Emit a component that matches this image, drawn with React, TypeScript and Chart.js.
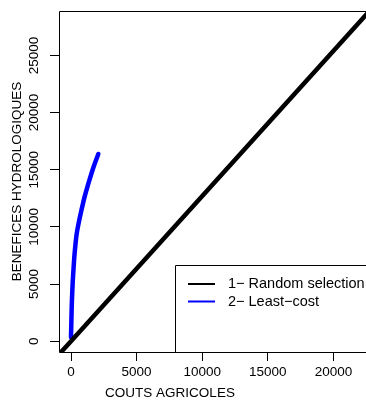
import { useEffect, useRef } from "react";
import { Chart, registerables } from "chart.js";

Chart.register(...registerables);

// ---- data ----
const RANDOM_X = [-1000, 0, 24000];
const RANDOM_Y = [-1270, 0, 30480];
const LEASTCOST_X = [0, 23, 53, 99, 165, 245, 335, 420, 600, 820, 1060, 1310, 1700, 2081];
const LEASTCOST_Y = [345, 1526, 2957, 4396, 5836, 7267, 8422, 9284, 10430, 11577, 12731, 13732, 15171, 16380];
const X_TICKS = [0, 5000, 10000, 15000, 20000];
const Y_TICKS = [0, 5000, 10000, 15000, 20000, 25000];
const X_RANGE = [-915, 22485];
const Y_RANGE = [-948, 28879];
const SERIES_LABELS = ["1\u2212 Random selection", "2\u2212 Least\u2212cost"];
const SERIES_COLORS = ["#000000", "#0000FF"];
const X_TITLE = "COUTS AGRICOLES";
const Y_TITLE = "BENEFICES HYDROLOGIQUES";

const FONT = "'Liberation Sans', Arial, Helvetica, sans-serif";

const decor = {
  id: "decor",
  afterDatasetsDraw(chart: any) {
    const { ctx, chartArea: a, scales } = chart;
    ctx.save();
    ctx.strokeStyle = "#000";
    ctx.lineWidth = 1;
    const L = Math.round(a.left) + 0.5;
    const T = Math.round(a.top) + 0.5;
    const B = Math.round(a.bottom) + 0.5;
    const R = a.right + 20;
    ctx.beginPath();
    ctx.moveTo(R, T);
    ctx.lineTo(L, T);
    ctx.lineTo(L, B);
    ctx.lineTo(R, B);
    ctx.stroke();

    ctx.fillStyle = "#000";
    ctx.font = `13.5px ${FONT}`;
    ctx.textAlign = "center";
    ctx.textBaseline = "middle";
    for (const t of scales.y.ticks) {
      const y = scales.y.getPixelForValue(t.value);
      ctx.save();
      ctx.translate(34, y);
      ctx.rotate(-Math.PI / 2);
      ctx.fillText(String(t.value), 0, 0);
      ctx.restore();
    }
    ctx.fillText(X_TITLE, 170, 393);
    ctx.save();
    ctx.translate(17.5, (a.top + a.bottom) / 2);
    ctx.rotate(-Math.PI / 2);
    ctx.fillText(Y_TITLE, 0, 0);
    ctx.restore();

    // legend
    ctx.beginPath();
    ctx.moveTo(R, 265.5);
    ctx.lineTo(175.5, 265.5);
    ctx.lineTo(175.5, B);
    ctx.stroke();
    ctx.font = `14.5px ${FONT}`;
    ctx.textAlign = "left";
    const ys = [284, 301.5];
    chart.data.datasets.forEach((ds: any, i: number) => {
      ctx.strokeStyle = ds.borderColor;
      ctx.lineWidth = 2;
      ctx.beginPath();
      ctx.moveTo(188, ys[i]);
      ctx.lineTo(215, ys[i]);
      ctx.stroke();
      ctx.fillStyle = "#000";
      ctx.fillText(ds.label, 228, ys[i]);
    });
    ctx.restore();
  },
};

export default function App() {
  const ref = useRef<HTMLCanvasElement>(null);
  useEffect(() => {
    document.body.style.margin = "0";
    const chart = new Chart(ref.current as HTMLCanvasElement, {
      type: "line",
      data: {
        datasets: [
          {
            label: SERIES_LABELS[0],
            data: RANDOM_X.map((x, i) => ({ x, y: RANDOM_Y[i] })),
            borderColor: SERIES_COLORS[0],
            borderWidth: 4.5,
            pointRadius: 0,
            tension: 0,
            clip: 0,
          },
          {
            label: SERIES_LABELS[1],
            data: LEASTCOST_X.map((x, i) => ({ x, y: LEASTCOST_Y[i] })),
            borderColor: SERIES_COLORS[1],
            borderWidth: 4.5,
            pointRadius: 0,
            cubicInterpolationMode: "monotone",
            borderCapStyle: "round",
            borderJoinStyle: "round",
            clip: 0,
          },
        ] as any,
      },
      options: {
        animation: false,
        responsive: false,
        devicePixelRatio: 1,
        layout: { padding: { top: 6, left: 0, right: 0, bottom: 0 } },
        plugins: { legend: { display: false }, tooltip: { enabled: false } },
        scales: {
          x: {
            type: "linear",
            min: X_RANGE[0],
            max: X_RANGE[1],
            afterBuildTicks: (s: any) => {
              s.ticks = X_TICKS.map((v) => ({ value: v }));
            },
            afterFit: (s: any) => {
              s.height = 51;
            },
            grid: { display: true, drawOnChartArea: false, drawTicks: true, tickLength: 9, color: "#000", lineWidth: 1 },
            border: { display: false },
            ticks: {
              color: "#000",
              font: { family: FONT, size: 13.5 },
              padding: 3,
              maxRotation: 0,
              minRotation: 0,
              autoSkip: false,
              callback: (v: any) => String(v),
            },
          },
          y: {
            type: "linear",
            min: Y_RANGE[0],
            max: Y_RANGE[1],
            afterBuildTicks: (s: any) => {
              s.ticks = Y_TICKS.map((v) => ({ value: v }));
            },
            afterFit: (s: any) => {
              s.width = 59;
            },
            grid: { display: true, drawOnChartArea: false, drawTicks: true, tickLength: 9, color: "#000", lineWidth: 1 },
            border: { display: false },
            ticks: {
              color: "rgba(0,0,0,0)",
              font: { family: FONT, size: 13.5 },
              autoSkip: false,
              callback: (v: any) => String(v),
            },
          },
        },
      } as any,
      plugins: [decor],
    });
    return () => chart.destroy();
  }, []);
  return <canvas ref={ref} width={366} height={403} style={{ display: "block" }} />;
}
